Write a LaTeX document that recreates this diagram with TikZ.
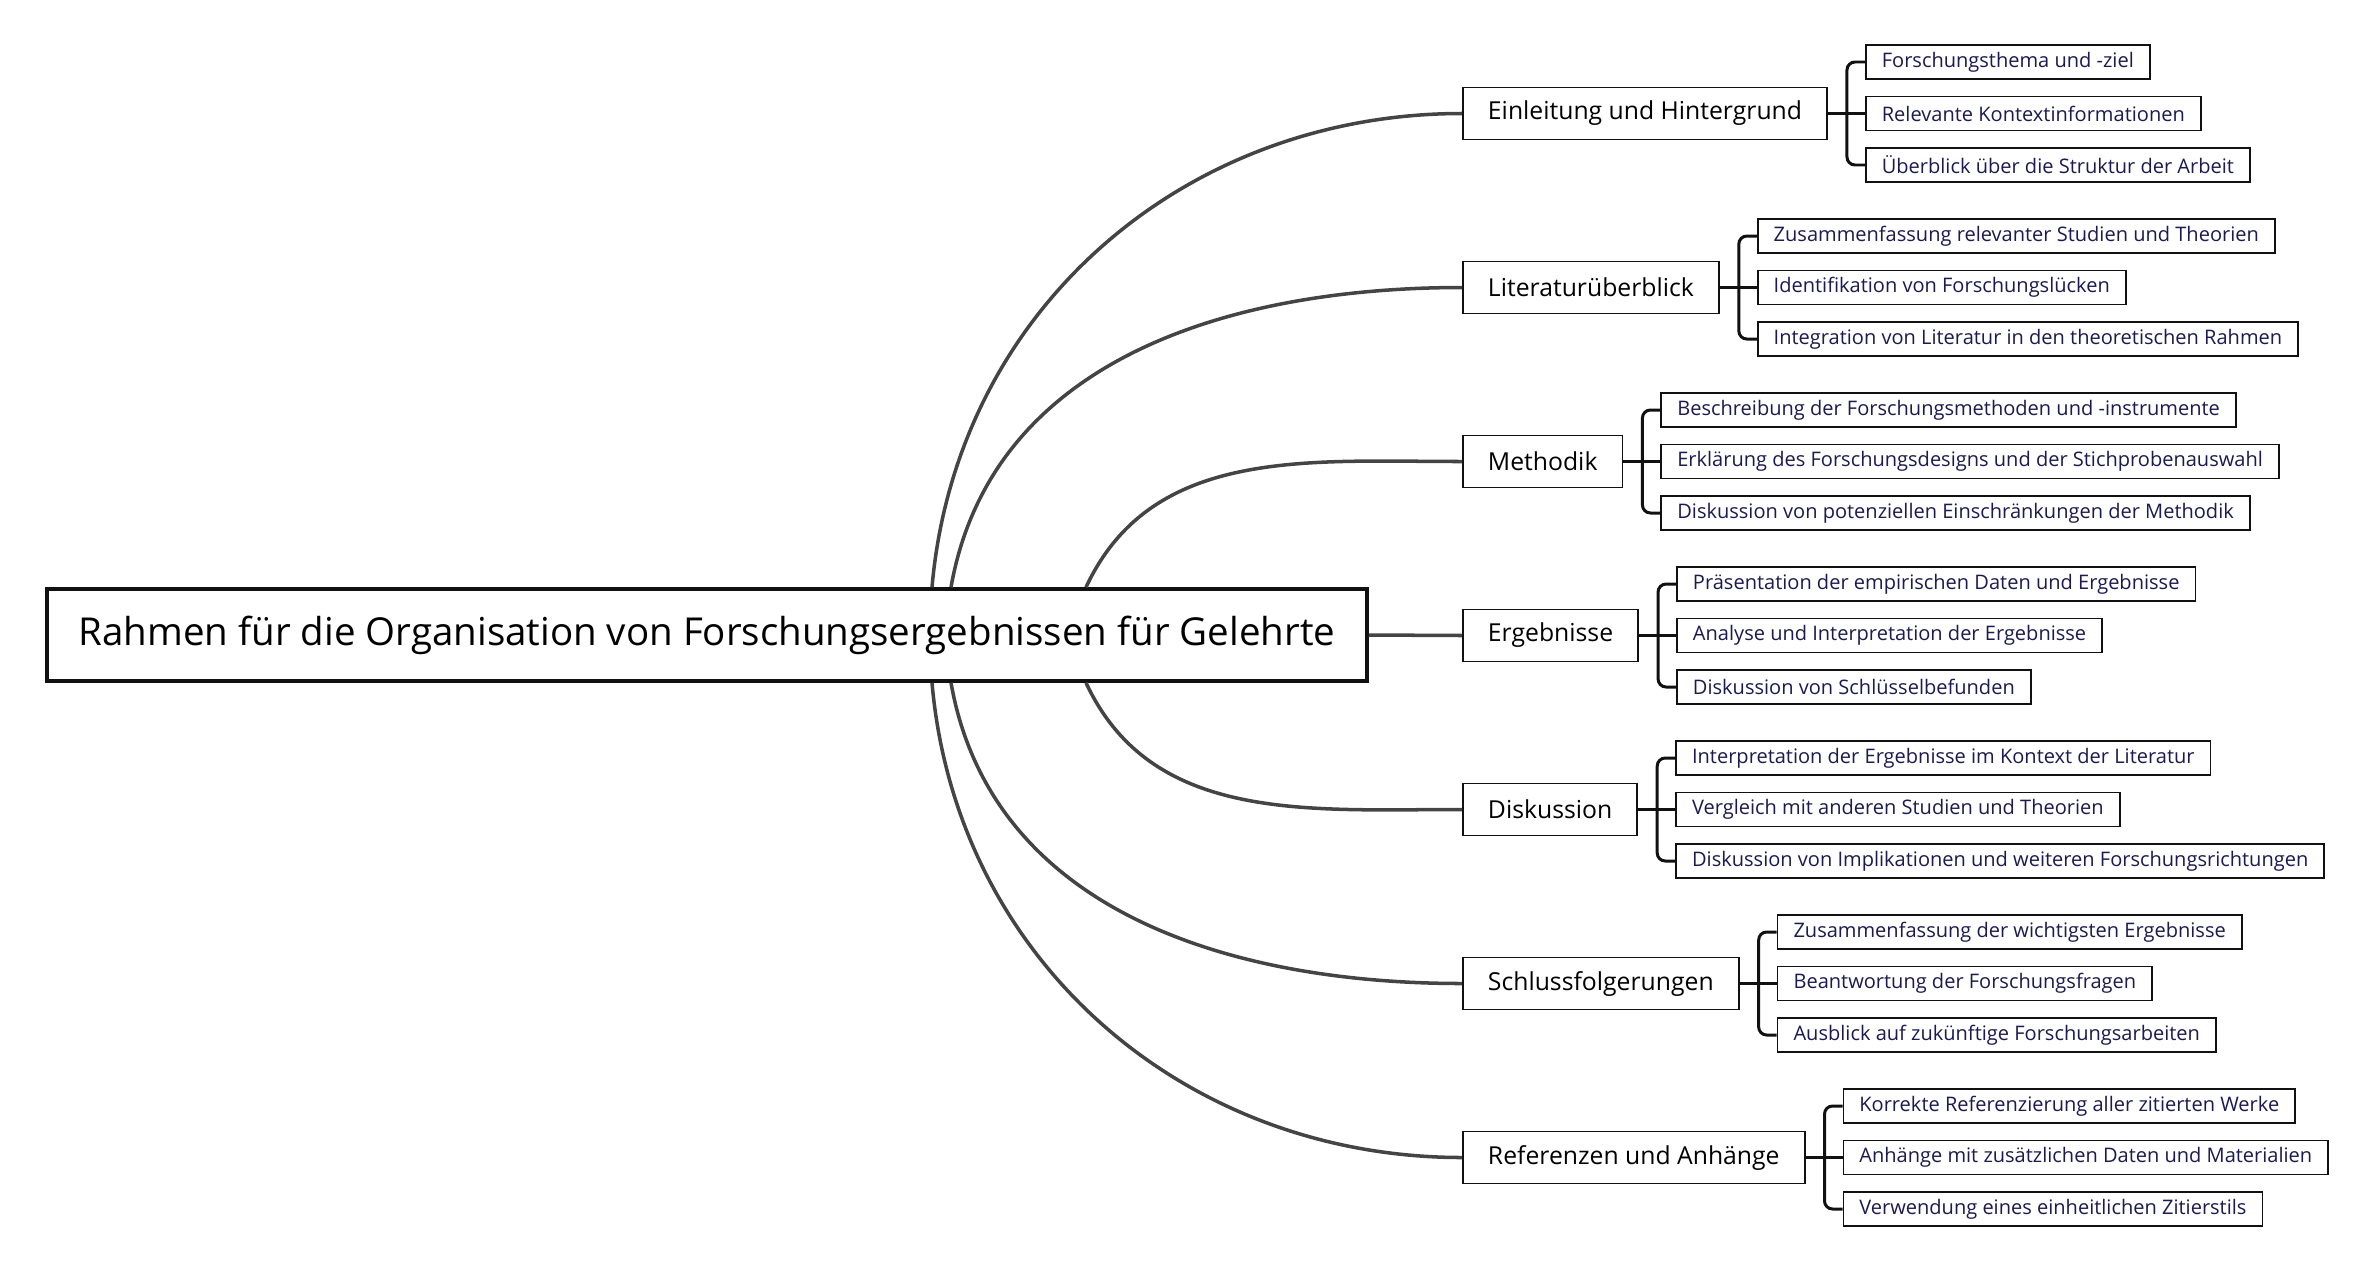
\documentclass[tikz,border=0pt]{standalone}
\usepackage{fontspec}
\setmainfont{Open Sans}
\usepackage{xcolor}
\usepackage{tikz}
\usetikzlibrary{calc}
\definecolor{edge}{HTML}{444444}
\definecolor{ink}{HTML}{111111}
\definecolor{leaftext}{HTML}{1C1A50}

\tikzset{
  rootbox/.style={draw=ink, line width=1pt, fill=white, inner xsep=0.32cm, minimum height=0.92cm, font=\fontsize{10.95}{13}\selectfont, anchor=west},
  topic/.style={draw=ink, line width=0.55pt, fill=white, inner xsep=0.25cm, minimum height=0.52cm, font=\fontsize{7.04}{8.4}\selectfont, anchor=west},
  leaf/.style={draw=ink, line width=0.5pt, fill=white, inner xsep=0.16cm, inner ysep=0pt, minimum height=0.34cm, text=leaftext, font=\fontsize{5.7}{7}\selectfont, anchor=west},
  branchline/.style={draw=edge, line width=1pt},
  bracket/.style={draw=ink, line width=0.85pt, rounded corners=0.08cm},
}

\begin{document}
\begin{tikzpicture}
  \useasboundingbox (0,0) rectangle (23.73,-12.87);
  % Root
  \node[rootbox] (root) at (0.45,-6.35) {Rahmen für die Organisation von Forschungsergebnissen für Gelehrte};
  % Topics
  \node[topic] (b1) at (14.62,-1.135) {Einleitung und Hintergrund};
  \node[topic] (b2) at (14.62,-2.875) {Literaturüberblick};
  \node[topic] (b3) at (14.62,-4.615) {Methodik};
  \node[topic] (b4) at (14.62,-6.355) {Ergebnisse};
  \node[topic] (b5) at (14.62,-8.095) {Diskussion};
  \node[topic] (b6) at (14.62,-9.835) {Schlussfolgerungen};
  \node[topic] (b7) at (14.62,-11.575) {Referenzen und Anhänge};
  % Leaves
  \node[leaf] (l11) at ([xshift=0.37cm,yshift=0.515cm]b1.east) {Forschungsthema und -ziel};
  \node[leaf] (l12) at ([xshift=0.37cm]b1.east) {Relevante Kontextinformationen};
  \node[leaf] (l13) at ([xshift=0.37cm,yshift=-0.515cm]b1.east) {Überblick über die Struktur der Arbeit};

  \node[leaf] (l21) at ([xshift=0.37cm,yshift=0.515cm]b2.east) {Zusammenfassung relevanter Studien und Theorien};
  \node[leaf] (l22) at ([xshift=0.37cm]b2.east) {Identifikation von Forschungslücken};
  \node[leaf] (l23) at ([xshift=0.37cm,yshift=-0.515cm]b2.east) {Integration von Literatur in den theoretischen Rahmen};

  \node[leaf] (l31) at ([xshift=0.37cm,yshift=0.515cm]b3.east) {Beschreibung der Forschungsmethoden und -instrumente};
  \node[leaf] (l32) at ([xshift=0.37cm]b3.east) {Erklärung des Forschungsdesigns und der Stichprobenauswahl};
  \node[leaf] (l33) at ([xshift=0.37cm,yshift=-0.515cm]b3.east) {Diskussion von potenziellen Einschränkungen der Methodik};

  \node[leaf] (l41) at ([xshift=0.37cm,yshift=0.515cm]b4.east) {Präsentation der empirischen Daten und Ergebnisse};
  \node[leaf] (l42) at ([xshift=0.37cm]b4.east) {Analyse und Interpretation der Ergebnisse};
  \node[leaf] (l43) at ([xshift=0.37cm,yshift=-0.515cm]b4.east) {Diskussion von Schlüsselbefunden};

  \node[leaf] (l51) at ([xshift=0.37cm,yshift=0.515cm]b5.east) {Interpretation der Ergebnisse im Kontext der Literatur};
  \node[leaf] (l52) at ([xshift=0.37cm]b5.east) {Vergleich mit anderen Studien und Theorien};
  \node[leaf] (l53) at ([xshift=0.37cm,yshift=-0.515cm]b5.east) {Diskussion von Implikationen und weiteren Forschungsrichtungen};

  \node[leaf] (l61) at ([xshift=0.37cm,yshift=0.515cm]b6.east) {Zusammenfassung der wichtigsten Ergebnisse};
  \node[leaf] (l62) at ([xshift=0.37cm]b6.east) {Beantwortung der Forschungsfragen};
  \node[leaf] (l63) at ([xshift=0.37cm,yshift=-0.515cm]b6.east) {Ausblick auf zukünftige Forschungsarbeiten};

  \node[leaf] (l71) at ([xshift=0.37cm,yshift=0.515cm]b7.east) {Korrekte Referenzierung aller zitierten Werke};
  \node[leaf] (l72) at ([xshift=0.37cm]b7.east) {Anhänge mit zusätzlichen Daten und Materialien};
  \node[leaf] (l73) at ([xshift=0.37cm,yshift=-0.515cm]b7.east) {Verwendung eines einheitlichen Zitierstils};
  % Branch lines
  \draw[branchline] ([xshift=8.87cm]root.north west) to[out=85,in=180] (b1.west);
  \draw[branchline] ([xshift=9.06cm]root.north west) to[out=80,in=180] (b2.west);
  \draw[branchline] ([xshift=10.41cm]root.north west) to[out=65,in=180] (b3.west);
  \draw[branchline] (root.east) -- (b4.west);
  \draw[branchline] ([xshift=10.41cm]root.south west) to[out=-65,in=180] (b5.west);
  \draw[branchline] ([xshift=9.06cm]root.south west) to[out=-80,in=180] (b6.west);
  \draw[branchline] ([xshift=8.87cm]root.south west) to[out=-85,in=180] (b7.west);
  % Brackets
  \foreach \b in {1,...,7} {
    \coordinate (k\b) at ([xshift=0.19cm]b\b.east);
    \draw[bracket] (b\b.east) -- (k\b) -- (l\b2.west);
    \draw[bracket] (l\b1.west) -| (k\b) |- (l\b3.west);
  }
\end{tikzpicture}
\end{document}
